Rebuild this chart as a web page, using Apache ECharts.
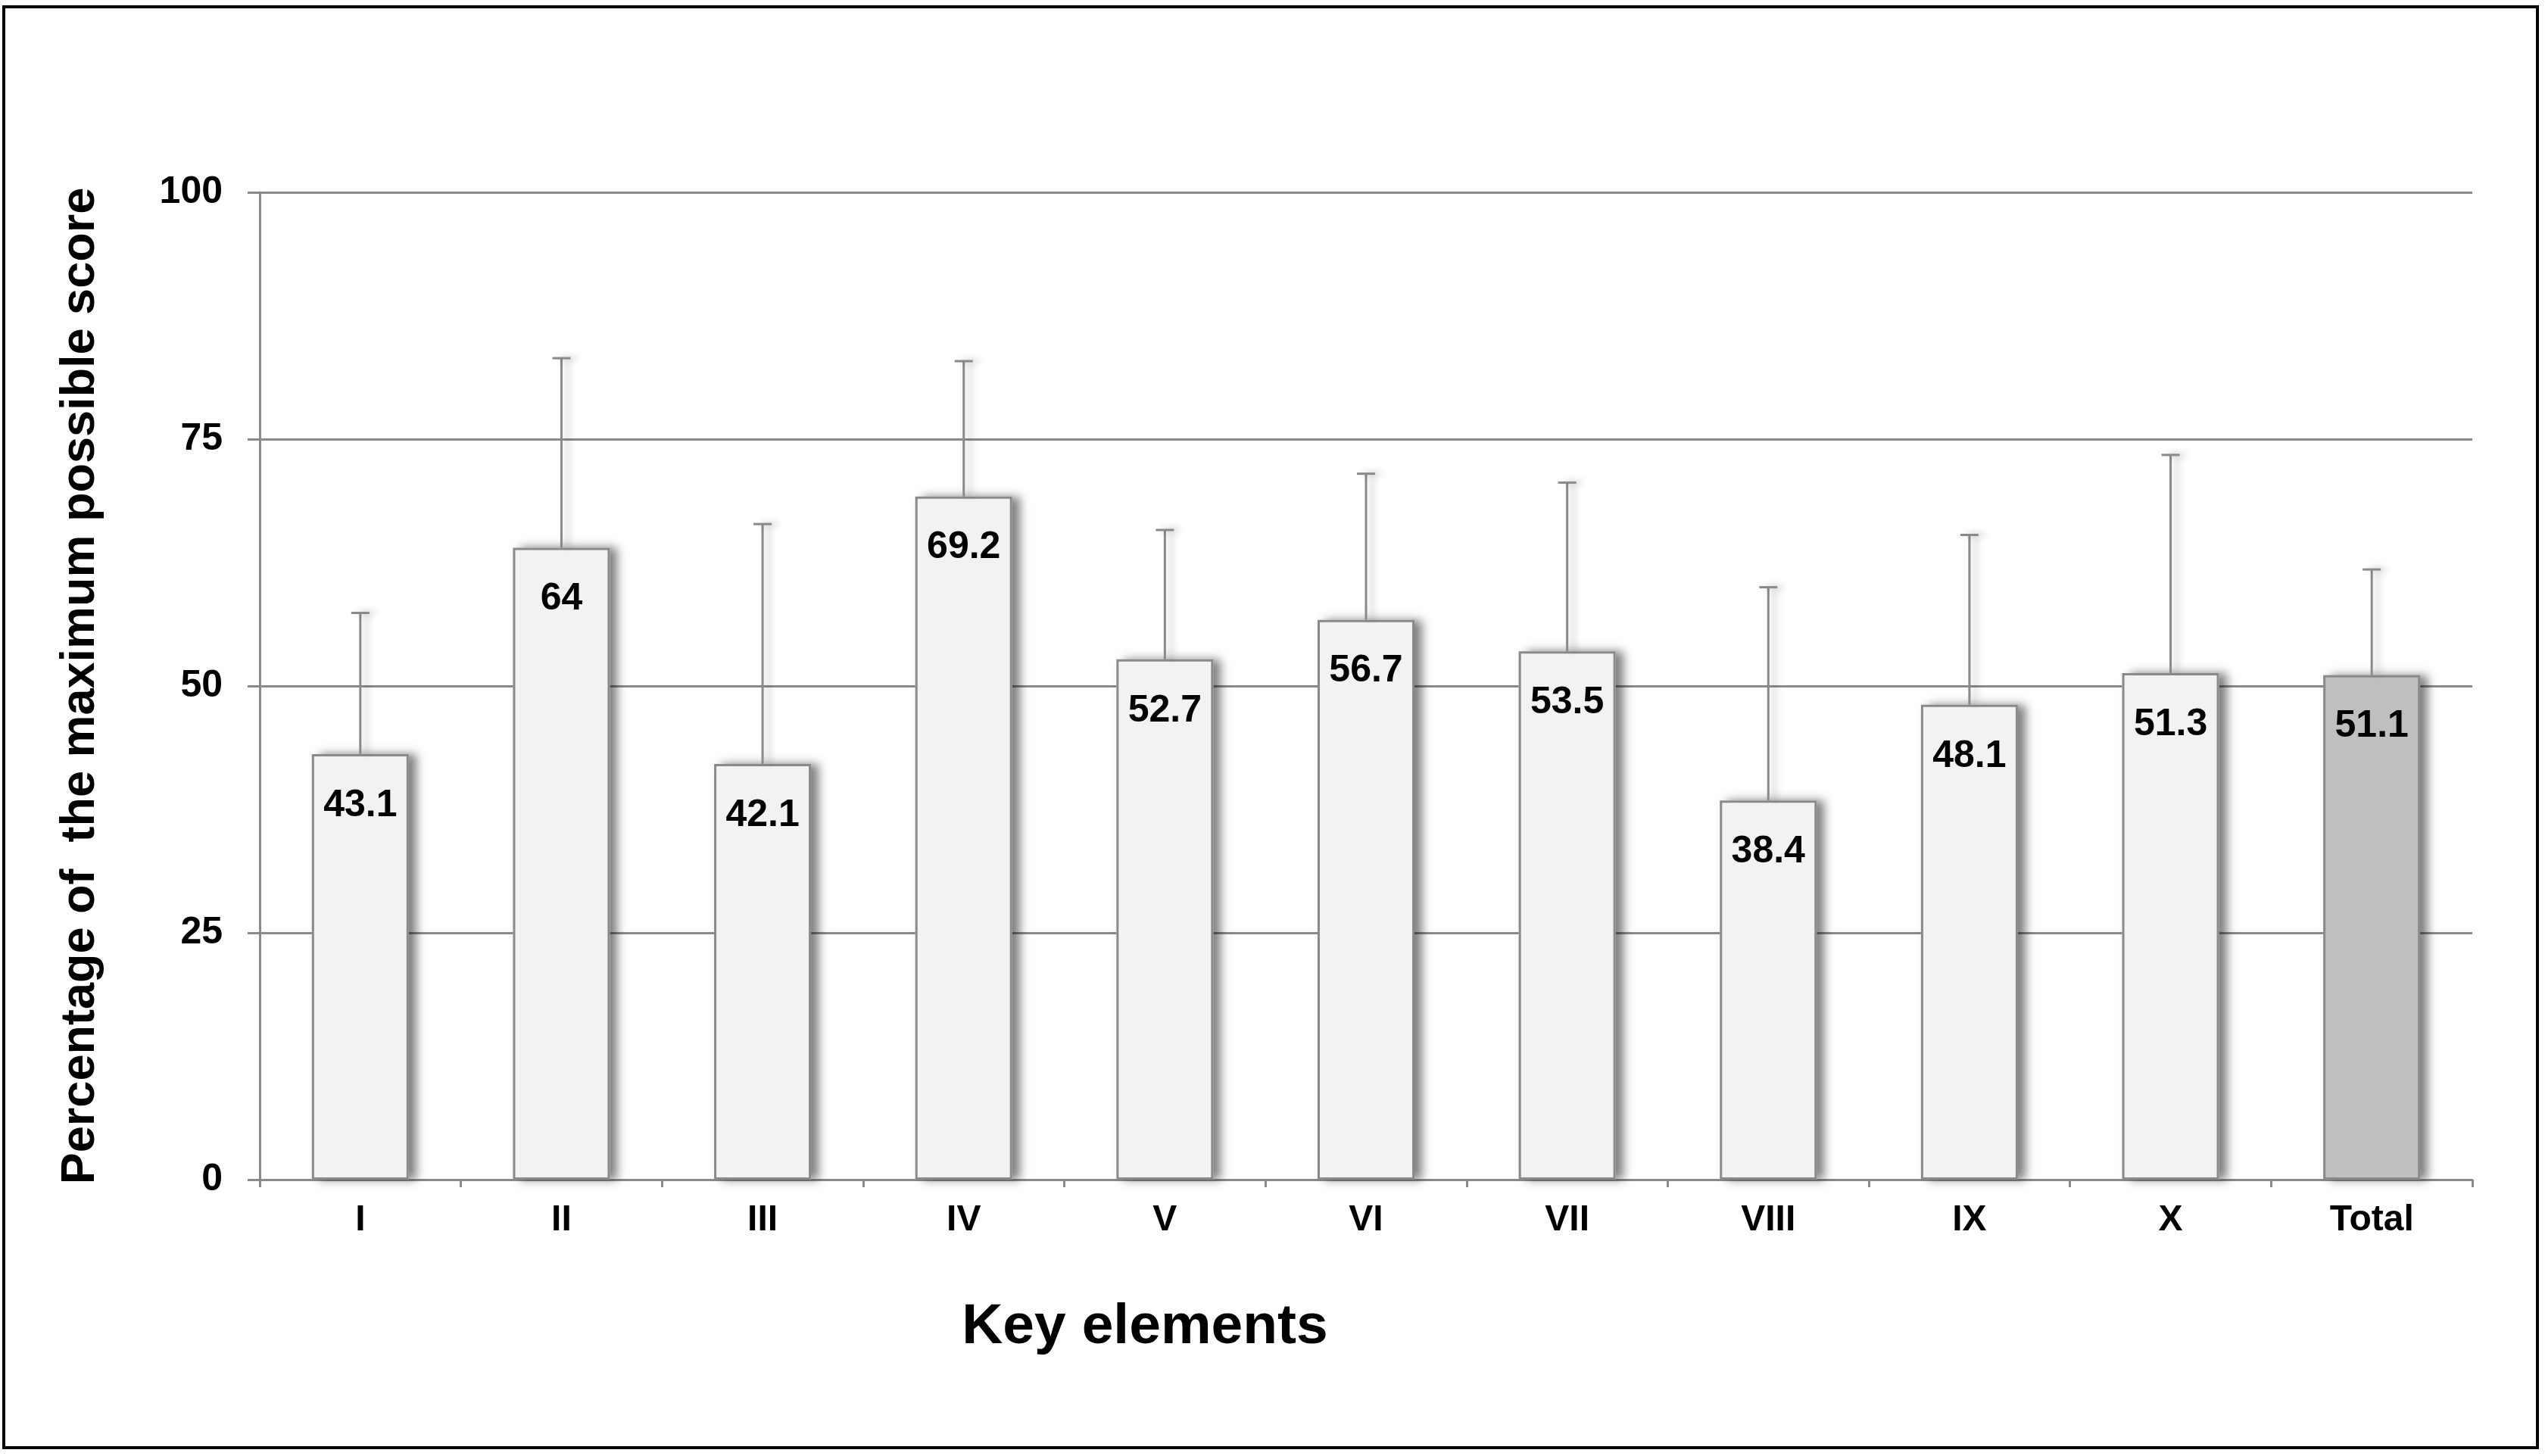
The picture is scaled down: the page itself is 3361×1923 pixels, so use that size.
<!DOCTYPE html>
<html><head><meta charset="utf-8">
<script src="https://cdn.jsdelivr.net/npm/echarts@6/dist/echarts.min.js"></script>
<style>html,body{margin:0;padding:0;background:#fff}#c{width:3361px;height:1923px}</style>
</head><body><div id="c"></div>
<script>
const categories = ['I','II','III','IV','V','VI','VII','VIII','IX','X','Total'];
const means = [43.1, 64, 42.1, 69.2, 52.7, 56.7, 53.5, 38.4, 48.1, 51.3, 51.1];
const upperErr = [57.4, 83.2, 66.4, 82.9, 65.8, 71.5, 70.6, 60.0, 65.3, 73.4, 61.8];
const yAxisTitle = 'Percentage of  the maximum possible score';
const xAxisTitle = 'Key elements';

const FONT = '"Liberation Sans", Arial, sans-serif';
const GRAY = '#8a8a8a';

const chart = echarts.init(document.getElementById('c'), null, {renderer:'canvas'});
const fillFor = i => categories[i] === 'Total' ? '#bfbfbf' : '#f2f2f2';
const barData = means.map((v, i) => ({ value: v, itemStyle: { color: fillFor(i) } }));
const errData = categories.map((c, i) => [i, means[i], upperErr[i]]);

const errStyle = { stroke: GRAY, lineWidth: 3, shadowBlur: 10, shadowColor: 'rgba(0,0,0,0.28)', shadowOffsetX: 8 };

chart.setOption({
  animation: false,
  backgroundColor: '#fff',
  grid: { left: 343, right: 96, top: 254, bottom: 365, containLabel: false },
  xAxis: {
    type: 'category',
    data: categories,
    axisLine: { lineStyle: { color: GRAY, width: 3 } },
    axisTick: { show: true, length: 10, lineStyle: { color: GRAY, width: 3 } },
    axisLabel: { color: '#000', fontWeight: 'bold', fontSize: 48, fontFamily: FONT, margin: 30 }
  },
  yAxis: {
    type: 'value', min: 0, max: 100, interval: 25,
    axisLine: { show: true, lineStyle: { color: GRAY, width: 3 } },
    axisTick: { show: true, length: 16, lineStyle: { color: GRAY, width: 3 } },
    splitLine: { show: true, lineStyle: { color: GRAY, width: 3 } },
    axisLabel: { color: '#000', fontWeight: 'bold', fontSize: 50, fontFamily: FONT, margin: 49 }
  },
  graphic: [
    { type: 'rect', shape: { x: 5, y: 9, width: 3346, height: 1903 }, style: { fill: 'none', stroke: '#000', lineWidth: 4 }, z: 100 },
    { type: 'text', x: 107, y: 906, rotation: Math.PI / 2,
      style: { text: yAxisTitle, fontSize: 63, fontWeight: 'bold', fontFamily: FONT, fill: '#000', align: 'center', verticalAlign: 'middle' } },
    { type: 'text', x: 1512, y: 1753,
      style: { text: xAxisTitle, fontSize: 75, fontWeight: 'bold', fontFamily: FONT, fill: '#000', align: 'center', verticalAlign: 'middle' } }
  ],
  series: [
    {
      // shadow layer (same values, drawn under the outlined bars)
      type: 'bar',
      data: barData,
      barWidth: 128,
      silent: true,
      itemStyle: { borderWidth: 0, shadowColor: 'rgba(0,0,0,0.5)', shadowBlur: 12, shadowOffsetX: 10, shadowOffsetY: 0 },
      z: 2
    },
    {
      type: 'bar',
      data: barData,
      barWidth: 128,
      barGap: '-100%',
      itemStyle: { borderColor: GRAY, borderWidth: 3 },
      label: {
        show: true, position: ['50%', 68], align: 'center', verticalAlign: 'middle',
        color: '#000', fontWeight: 'bold', fontSize: 50, fontFamily: FONT
      },
      z: 3
    },
    {
      type: 'custom',
      data: errData,
      encode: { x: 0, y: [1, 2] },
      z: 4,
      renderItem: function (params, api) {
        const idx = api.value(0);
        const lo = api.coord([idx, api.value(1)]);
        const hi = api.coord([idx, api.value(2)]);
        const hw = 12;
        return {
          type: 'group',
          children: [
            { type: 'line', shape: { x1: lo[0], y1: lo[1], x2: hi[0], y2: hi[1] }, style: errStyle },
            { type: 'line', shape: { x1: hi[0] - hw, y1: hi[1], x2: hi[0] + hw, y2: hi[1] }, style: errStyle }
          ]
        };
      }
    }
  ]
});
</script>
</body></html>
